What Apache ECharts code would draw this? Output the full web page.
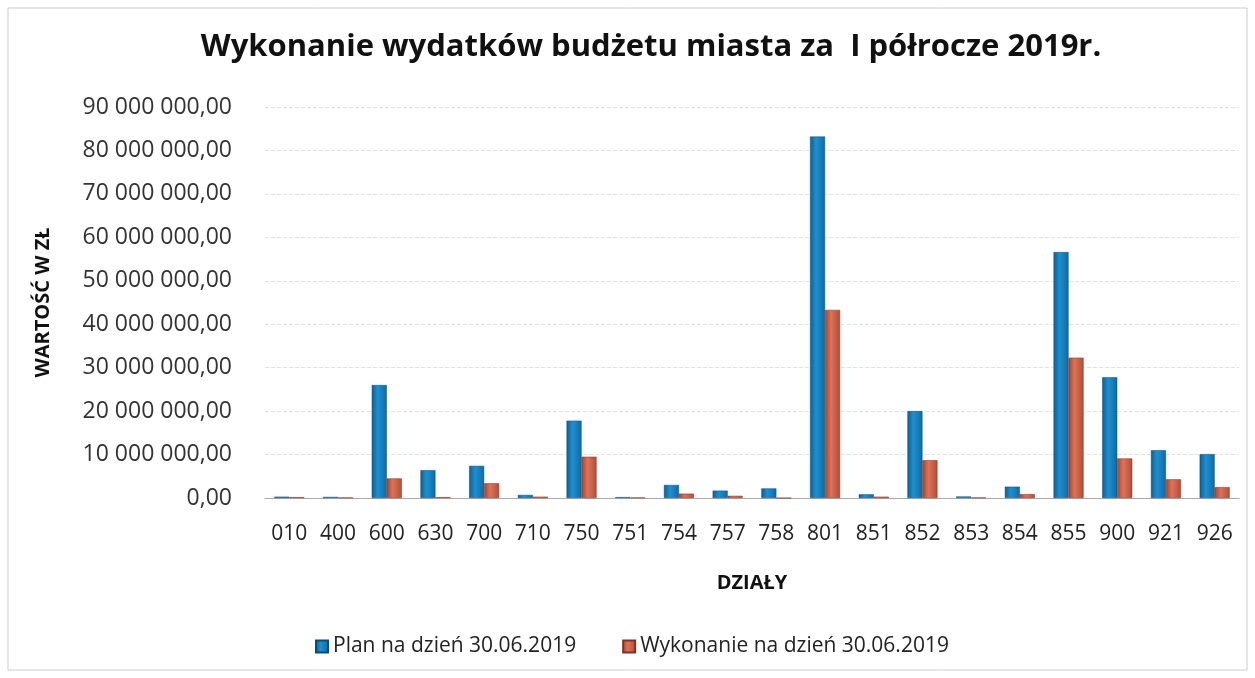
<!DOCTYPE html>
<html><head><meta charset="utf-8">
<script src="https://cdn.jsdelivr.net/npm/echarts@6/dist/echarts.min.js"></script>
<style>html,body{margin:0;padding:0;background:#fff}#c{width:1255px;height:678px}</style>
</head><body><div id="c"></div>
<script>
const categories = ['010','400','600','630','700','710','750','751','754','757','758','801','851','852','853','854','855','900','921','926'];
const planValues = [300000,250000,26000000,6400000,7400000,700000,17800000,200000,3000000,1700000,2200000,83200000,850000,20000000,350000,2600000,56600000,27800000,11000000,10100000];
const wykonanieValues = [200000,100000,4500000,200000,3400000,300000,9500000,100000,1000000,500000,0,43300000,300000,8700000,100000,900000,32300000,9100000,4300000,2500000];
const seriesNames = ['Plan na dzień 30.06.2019','Wykonanie na dzień 30.06.2019'];
const titleText = 'Wykonanie wydatków budżetu miasta za  I półrocze 2019r.';
const yAxisName = 'WARTOŚĆ W ZŁ';
const xAxisName = 'DZIAŁY';

function fmt(v){
  const s = Math.round(v).toString().replace(/\B(?=(\d{3})+(?!\d))/g,' ');
  return s + ',00';
}
const chart = echarts.init(document.getElementById('c'));
const font = 'Open Sans';
chart.setOption({
  animation:false,
  backgroundColor:'#fff',
  title:{text:titleText,left:646,textAlign:'center',top:27,textStyle:{fontFamily:font,fontSize:31,fontWeight:'bold',color:'#111'}},
  grid:{left:265,right:16,top:107,bottom:180},
  legend:{top:631,left:310,itemWidth:12,itemHeight:12,itemGap:46,icon:'rect',
    textStyle:{fontFamily:font,fontSize:21,color:'#222'}},
  xAxis:{type:'category',data:categories,name:xAxisName,nameLocation:'middle',nameGap:75,
    nameTextStyle:{fontFamily:font,fontSize:20,fontWeight:'bold',color:'#111'},
    axisLine:{lineStyle:{color:'#aaa'}},axisTick:{show:false},
    axisLabel:{fontFamily:font,fontSize:21,color:'#222',margin:26}},
  yAxis:{type:'value',min:0,max:90000000,interval:10000000,name:yAxisName,nameLocation:'middle',nameGap:212,
    nameTextStyle:{fontFamily:font,fontSize:20,fontWeight:'bold',color:'#111'},
    axisLine:{show:false},axisTick:{show:false},
    axisLabel:{fontFamily:font,fontSize:23,color:'#333',margin:33,formatter:fmt},
    splitLine:{lineStyle:{color:'#e2e2e2',type:'dashed'}}},
  series:[
    {name:seriesNames[0],type:'bar',data:planValues,barWidth:15,barGap:'0%',
     itemStyle:{color:new echarts.graphic.LinearGradient(0,0,1,0,[{offset:0,color:'#0f5f92'},{offset:0.4,color:'#1f8fd0'},{offset:1,color:'#0f6aa3'}]),borderColor:'#0b4c76',borderWidth:0.5}},
    {name:seriesNames[1],type:'bar',data:wykonanieValues,barWidth:15,
     itemStyle:{color:new echarts.graphic.LinearGradient(0,0,1,0,[{offset:0,color:'#a5442f'},{offset:0.4,color:'#dd7358'},{offset:1,color:'#b04e38'}]),borderColor:'#7f3322',borderWidth:0.5}}
  ],
  graphic:[{type:'rect',shape:{x:8,y:8,width:1239,height:662},style:{fill:'none',stroke:'#ccc',lineWidth:1}}]
});
</script></body></html>
